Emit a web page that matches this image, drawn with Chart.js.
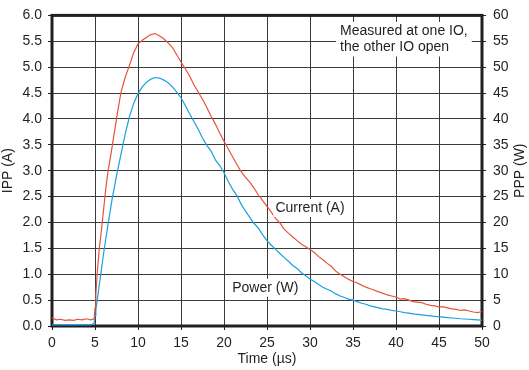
<!DOCTYPE html>
<html>
<head>
<meta charset="utf-8">
<script src="https://cdn.jsdelivr.net/npm/chart.js@4/dist/chart.umd.min.js"></script>
<style>
  html, body { margin: 0; padding: 0; background: #fff; }
  #wrap { width: 529px; height: 370px; }
</style>
</head>
<body>
<div id="wrap"><canvas id="myChart" width="529" height="370"></canvas></div>
<script>
// time axis, µs
const timeUs = [
  0, 0.5, 1, 1.5, 2, 2.5, 3, 3.5, 4, 4.5,
  4.9, 5, 5.1, 5.25, 5.5, 5.75, 6, 6.25, 6.5, 6.75, 7,
  7.5, 8, 8.5, 9, 9.5, 10, 10.5, 11, 11.5, 12,
  12.5, 13, 13.5, 14, 14.5, 15, 15.5, 16, 16.5, 17,
  17.5, 18, 18.5, 19, 19.5, 20, 20.5, 21, 21.5, 22,
  22.5, 23, 23.5, 24, 24.5, 25, 25.5, 26, 26.5, 27,
  27.5, 28, 28.5, 29, 29.5, 30, 30.5, 31, 31.5, 32,
  32.5, 33, 33.5, 34, 34.5, 35, 35.5, 36, 36.5, 37,
  37.5, 38, 38.5, 39, 39.5, 40, 40.5, 41, 41.5, 42,
  42.5, 43, 43.5, 44, 44.5, 45, 45.5, 46, 46.5, 47,
  47.5, 48, 48.5, 49, 49.5, 50
];

// IPP, A (left axis)
const currentA = [
  0.16, 0.12, 0.13, 0.11, 0.12, 0.11, 0.13, 0.12, 0.14, 0.12,
  0.14, 0.35, 0.6, 1.0, 1.5, 1.85, 2.25, 2.65, 2.97, 3.22, 3.47,
  4.0, 4.5, 4.8, 5.03, 5.28, 5.45, 5.52, 5.58, 5.63, 5.65,
  5.6, 5.55, 5.47, 5.38, 5.24, 5.1, 4.97, 4.83, 4.66, 4.52,
  4.38, 4.22, 4.05, 3.9, 3.73, 3.57, 3.42, 3.27, 3.12, 2.98,
  2.87, 2.78, 2.66, 2.53, 2.42, 2.31, 2.2, 2.08, 1.99, 1.87,
  1.79, 1.72, 1.65, 1.58, 1.53, 1.48, 1.42, 1.34, 1.28, 1.21,
  1.15, 1.06, 1.0, 0.95, 0.9, 0.86, 0.83, 0.79, 0.75, 0.72,
  0.69, 0.66, 0.63, 0.6, 0.58, 0.56, 0.52, 0.53, 0.5, 0.47,
  0.46, 0.45, 0.42, 0.4, 0.39, 0.37, 0.37, 0.35, 0.33, 0.32,
  0.3, 0.31, 0.29, 0.27, 0.26, 0.28
];

// PPP, W (right axis)
const powerW = [
  0.2, 0.2, 0.2, 0.2, 0.2, 0.2, 0.2, 0.2, 0.2, 0.2,
  0.5, 2.0, 3.3, 4.8, 8.0, 11.0, 14.0, 16.8, 19.5, 22.0, 24.6,
  29.0, 33.0, 37.0, 40.4, 43.0, 44.9, 46.2, 47.1, 47.7, 48.0,
  47.9, 47.5, 47.0, 46.2, 45.2, 44.1, 42.6, 41.0, 39.5, 38.0,
  36.3, 34.9, 33.8, 32.1, 31.0, 29.6, 27.9, 26.4, 25.2, 23.5,
  22.2, 21.0, 19.8, 18.9, 17.6, 16.5, 15.6, 14.8, 14.0, 13.2,
  12.5, 11.7, 11.1, 10.3, 9.7, 9.1, 8.6, 8.0, 7.5, 7.1,
  6.7, 6.2, 5.8, 5.5, 5.2, 5.0, 4.7, 4.4, 4.2, 3.9,
  3.7, 3.5, 3.3, 3.2, 3.0, 2.9, 2.75, 2.6, 2.5, 2.35,
  2.25, 2.15, 2.05, 1.95, 1.85, 1.8, 1.7, 1.6, 1.55, 1.5,
  1.4, 1.35, 1.3, 1.25, 1.2, 1.15
];

// text labels placed in data units: [text, x (µs), y (A), align]
const noteLines = [
  ['Measured at one IO,', 33.5, 5.70, 'left'],
  ['the other IO open', 33.5, 5.38, 'left']
];
const seriesLabels = [
  ['Current (A)', 30.0, 2.28, 'center'],
  ['Power (W)', 24.8, 0.74, 'center']
];

const FONT = 'Liberation Sans, Arial, Helvetica, sans-serif';
const INK = '#231f20';

let frame = {
  id: 'frame',
  beforeDatasetsDraw(chart) {
    let a = chart.chartArea, ctx = chart.ctx;
    ctx.save();
    ctx.strokeStyle = INK;
    ctx.lineWidth = 3;
    ctx.strokeRect(a.left, a.top, a.right - a.left, a.bottom - a.top);
    ctx.restore();
  },
  afterDatasetsDraw(chart) {
    let ctx = chart.ctx, sx = chart.scales.x, sy = chart.scales.y;
    ctx.save();
    ctx.font = '14px ' + FONT;
    ctx.textBaseline = 'middle';

    // white box behind the note
    let nx = sx.getPixelForValue(noteLines[0][1]);
    let ny1 = sy.getPixelForValue(noteLines[0][2]);
    let ny2 = sy.getPixelForValue(noteLines[1][2]);
    let w = Math.max(...noteLines.map(l => ctx.measureText(l[0]).width));
    ctx.fillStyle = '#fff';
    ctx.fillRect(nx - 4, ny1 - 9, w + 8, ny2 - ny1 + 18);
    ctx.fillStyle = INK;
    noteLines.forEach(l => {
      ctx.textAlign = l[3];
      ctx.fillText(l[0], sx.getPixelForValue(l[1]), sy.getPixelForValue(l[2]));
    });

    seriesLabels.forEach(l => {
      let px = sx.getPixelForValue(l[1]), py = sy.getPixelForValue(l[2]);
      let tw = ctx.measureText(l[0]).width;
      ctx.fillStyle = '#fff';
      ctx.fillRect(px - tw / 2 - 2, py - 9, tw + 4, 18);
      ctx.fillStyle = INK;
      ctx.textAlign = 'center';
      ctx.fillText(l[0], px, py);
    });

    // right axis title, read bottom to top like the left one
    let a = chart.chartArea;
    ctx.translate(520, (a.top + a.bottom) / 2);
    ctx.rotate(-Math.PI / 2);
    ctx.textAlign = 'center';
    ctx.fillText('PPP (W)', 0, 0);
    ctx.restore();
  }
};

function toPoints(ys) {
  return timeUs.map((t, i) => ({ x: t, y: ys[i] }));
}

let chart = new Chart(document.getElementById('myChart'), {
  type: 'line',
  data: {
    datasets: [
      {
        label: 'Current (A)',
        data: toPoints(currentA),
        borderColor: '#e5533a',
        borderWidth: 1.2,
        pointRadius: 0,
        tension: 0,
        yAxisID: 'y'
      },
      {
        label: 'Power (W)',
        data: toPoints(powerW),
        borderColor: '#1a9fdf',
        borderWidth: 1.2,
        pointRadius: 0,
        tension: 0,
        yAxisID: 'y2'
      }
    ]
  },
  options: {
    responsive: false,
    animation: false,
    devicePixelRatio: 1,
    layout: { padding: { top: 5 } },
    plugins: {
      legend: { display: false },
      tooltip: { enabled: false }
    },
    scales: {
      x: {
        type: 'linear',
        min: 0,
        max: 50,
        ticks: { stepSize: 5, color: INK, font: { size: 14, family: FONT }, padding: 5, maxRotation: 0 },
        grid: { color: '#3a3a3a', lineWidth: 1, tickLength: 4, tickColor: INK },
        border: { display: false },
        title: { display: true, text: 'Time (µs)', color: INK, font: { size: 14, family: FONT }, padding: { top: 0, bottom: 2 } },
        afterFit(s) { s.height = 44; }
      },
      y: {
        position: 'left',
        min: 0,
        max: 6,
        ticks: { stepSize: 0.5, color: INK, font: { size: 14, family: FONT }, padding: 6, callback: v => v.toFixed(1) },
        grid: { color: '#3a3a3a', lineWidth: 1, tickLength: 4, tickColor: INK },
        border: { display: false },
        title: { display: true, text: 'IPP (A)', color: INK, font: { size: 14, family: FONT }, padding: { top: 0, bottom: 0 } },
        afterFit(s) { s.width = 52; }
      },
      y2: {
        position: 'right',
        min: 0,
        max: 60,
        ticks: { stepSize: 5, color: INK, font: { size: 14, family: FONT }, padding: 7 },
        grid: { drawOnChartArea: false, tickLength: 4, tickColor: INK },
        border: { display: false },
        afterFit(s) { s.width = 47; }
      }
    }
  },
  plugins: [frame]
});
</script>
</body>
</html>
